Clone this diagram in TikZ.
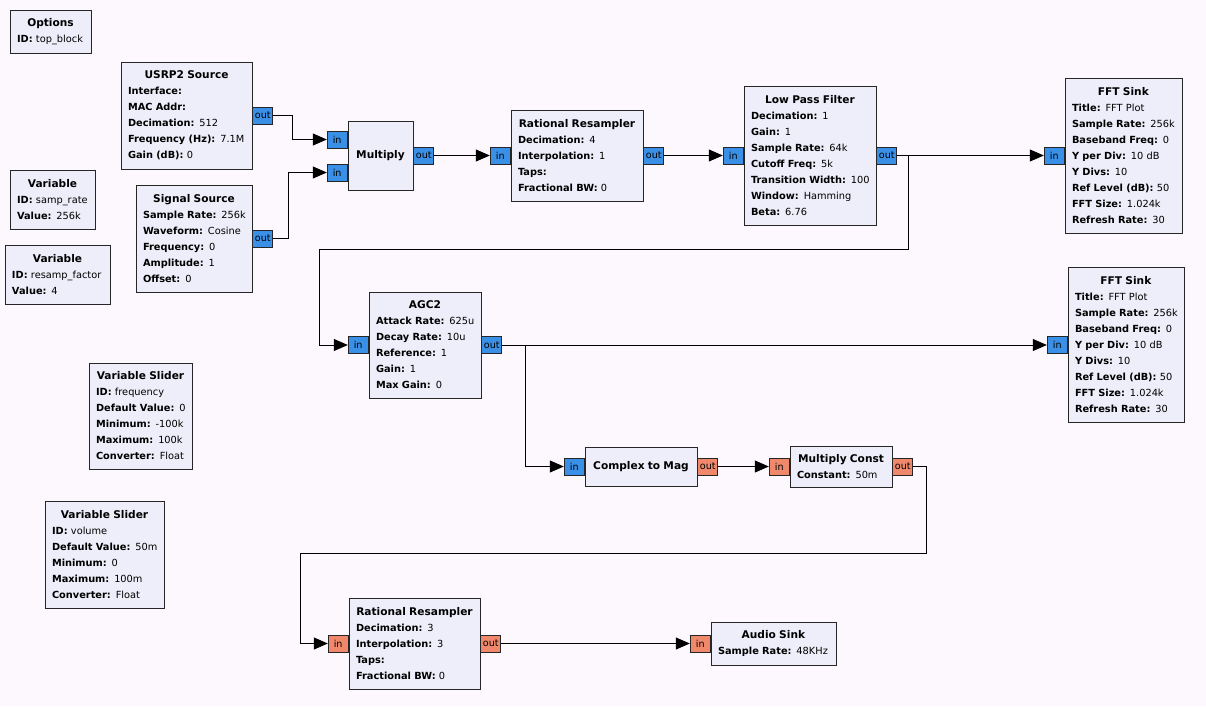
\documentclass[tikz,border=0pt]{standalone}
\usepackage{fontspec}
\setmainfont{DejaVu Sans}
\usepackage{tikz}
\usetikzlibrary{
    arrows.meta,
    calc,
    positioning,
}
\definecolor{canvasbg}{HTML}{FDF8FD}
\definecolor{blockbg}{HTML}{EEEEFA}
\definecolor{cplxport}{HTML}{3A8FE6}
\definecolor{realport}{HTML}{F0896B}
\tikzset{
    grblock/.style 2 args={ % text width, box height
        draw=black!85, fill=blockbg, line width=0.8pt,
        inner xsep=7pt, inner ysep=0pt,
        text width=#1pt, minimum height=#2pt,
        align=left, font=\fontsize{9.8}{16}\selectfont,
    },
    port/.style={draw=black!85, line width=0.8pt, inner sep=0pt,
        minimum width=20pt, minimum height=17pt,
        font=\fontsize{9.6}{10}\selectfont},
    cport/.style={port, fill=cplxport},
    rport/.style={port, fill=realport},
}
\newcommand{\blocktitle}[1]{\makebox[\hsize]{\fontsize{10.6}{16}\selectfont\textbf{#1}}}
\newcommand{\prm}[2]{\mbox{\textbf{#1:} #2}}

\begin{document}
\begin{tikzpicture}[
    x=1pt, y=-1pt,
    >={Triangle[length=14pt, width=12pt]},
    link/.style={line width=0.8pt, ->},
    ]

    \fill[canvasbg] (0,0) rectangle (1206,706);

    % variables and options
    \node[grblock={67}{43}] (options) at (50.5,31.5)
        {\blocktitle{Options}\\ \prm{ID}{top\_block}};
    \node[grblock={71}{59}] (samprate) at (52.5,199.5)
        {\blocktitle{Variable}\\ \prm{ID}{samp\_rate}\\ \prm{Value}{256k}};
    \node[grblock={91}{59}] (resampfactor) at (57.5,274.5)
        {\blocktitle{Variable}\\ \prm{ID}{resamp\_factor}\\ \prm{Value}{4}};
    \node[grblock={89}{106}] (freqslider) at (140.5,416)
        {\blocktitle{Variable Slider}\\ \prm{ID}{frequency}\\ \prm{Default Value}{0}\\
         \prm{Minimum}{-100k}\\ \prm{Maximum}{100k}\\ \prm{Converter}{Float}};
    \node[grblock={105}{107}] (volslider) at (104.5,554.5)
        {\blocktitle{Variable Slider}\\ \prm{ID}{volume}\\ \prm{Default Value}{50m}\\
         \prm{Minimum}{0}\\ \prm{Maximum}{100m}\\ \prm{Converter}{Float}};

    % sources
    \node[grblock={117}{107}] (usrp) at (186.5,115.5)
        {\blocktitle{USRP2 Source}\\ \textbf{Interface:}\\ \textbf{MAC Addr:}\\
         \prm{Decimation}{512}\\ \prm{Frequency (Hz)}{7.1M}\\ \prm{Gain (dB)}{0}};
    \node[cport, anchor=west] (usrp-out) at (usrp.east) {out};

    \node[grblock={102}{107}] (sigsrc) at (194,238.5)
        {\blocktitle{Signal Source}\\ \prm{Sample Rate}{256k}\\ \prm{Waveform}{Cosine}\\
         \prm{Frequency}{0}\\ \prm{Amplitude}{1}\\ \prm{Offset}{0}};
    \node[cport, anchor=west] (sigsrc-out) at (sigsrc.east) {out};

    % first row
    \node[grblock={51}{69}] (mult) at (380.5,155.5) {\blocktitle{Multiply}};
    \node[cport, anchor=east] (mult-in1) at ([yshift=16pt]mult.west) {in};
    \node[cport, anchor=east] (mult-in2) at ([yshift=-17pt]mult.west) {in};
    \node[cport, anchor=west] (mult-out) at (mult.east) {out};

    \node[grblock={118}{91}] (resamp) at (577,155.5)
        {\blocktitle{Rational Resampler}\\ \prm{Decimation}{4}\\ \prm{Interpolation}{1}\\
         \textbf{Taps:}\\ \prm{Fractional BW}{0}};
    \node[cport, anchor=east] (resamp-in) at (resamp.west) {in};
    \node[cport, anchor=west] (resamp-out) at (resamp.east) {out};

    \node[grblock={118}{139}] (lpf) at (810,155.5)
        {\blocktitle{Low Pass Filter}\\ \prm{Decimation}{1}\\ \prm{Gain}{1}\\
         \prm{Sample Rate}{64k}\\ \prm{Cutoff Freq}{5k}\\ \prm{Transition Width}{100}\\
         \prm{Window}{Hamming}\\ \prm{Beta}{6.76}};
    \node[cport, anchor=east] (lpf-in) at (lpf.west) {in};
    \node[cport, anchor=west] (lpf-out) at (lpf.east) {out};

    \node[grblock={103}{155}] (fftone) at (1123.5,155.5)
        {\blocktitle{FFT Sink}\\ \prm{Title}{FFT Plot}\\ \prm{Sample Rate}{256k}\\
         \prm{Baseband Freq}{0}\\ \prm{Y per Div}{10 dB}\\ \prm{Y Divs}{10}\\
         \prm{Ref Level (dB)}{50}\\ \prm{FFT Size}{1.024k}\\ \prm{Refresh Rate}{30}};
    \node[cport, anchor=east] (fftone-in) at (fftone.west) {in};

    % second row
    \node[grblock={98}{106}] (agc) at (425,345)
        {\blocktitle{AGC2}\\ \prm{Attack Rate}{625u}\\ \prm{Decay Rate}{10u}\\
         \prm{Reference}{1}\\ \prm{Gain}{1}\\ \prm{Max Gain}{0}};
    \node[cport, anchor=east] (agc-in) at (agc.west) {in};
    \node[cport, anchor=west] (agc-out) at (agc.east) {out};

    \node[grblock={102}{155}] (ffttwo) at (1126,345)
        {\blocktitle{FFT Sink}\\ \prm{Title}{FFT Plot}\\ \prm{Sample Rate}{256k}\\
         \prm{Baseband Freq}{0}\\ \prm{Y per Div}{10 dB}\\ \prm{Y Divs}{10}\\
         \prm{Ref Level (dB)}{50}\\ \prm{FFT Size}{1.024k}\\ \prm{Refresh Rate}{30}};
    \node[cport, anchor=east] (ffttwo-in) at (ffttwo.west) {in};

    \node[grblock={98}{39}] (tomag) at (641,466.5) {\blocktitle{Complex to Mag}};
    \node[cport, anchor=east] (tomag-in) at (tomag.west) {in};
    \node[rport, anchor=west] (tomag-out) at (tomag.east) {out};

    \node[grblock={88}{41}] (mulconst) at (841,466.5)
        {\blocktitle{Multiply Const}\\ \prm{Constant}{50m}};
    \node[rport, anchor=east] (mulconst-in) at (mulconst.west) {in};
    \node[rport, anchor=west] (mulconst-out) at (mulconst.east) {out};

    % audio path
    \node[grblock={117}{91}] (resamptwo) at (414.5,643.5)
        {\blocktitle{Rational Resampler}\\ \prm{Decimation}{3}\\ \prm{Interpolation}{3}\\
         \textbf{Taps:}\\ \prm{Fractional BW}{0}};
    \node[rport, anchor=east] (resamptwo-in) at (resamptwo.west) {in};
    \node[rport, anchor=west] (resamptwo-out) at (resamptwo.east) {out};

    \node[grblock={111}{43}] (audio) at (773.5,643.5)
        {\blocktitle{Audio Sink}\\ \prm{Sample Rate}{48KHz}};
    \node[rport, anchor=east] (audio-in) at (audio.west) {in};

    % connections
    \draw[link] (usrp-out.east) -- ++(19,0) |- (mult-in1.west);
    \draw[link] (sigsrc-out.east) -- ++(15,0) |- (mult-in2.west);
    \draw[link] (mult-out) -- (resamp-in);
    \draw[link] (resamp-out) -- (lpf-in);
    \draw[link] (lpf-out) -- (fftone-in);
    \draw[link] (lpf-out.east) -- ++(11,0) |- (319,249) |- (agc-in.west);
    \draw[link] (agc-out) -- (ffttwo-in);
    \draw[link] (agc-out.east) -- ++(23,0) |- (tomag-in.west);
    \draw[link] (tomag-out) -- (mulconst-in);
    \draw[link] (mulconst-out.east) -- ++(13,0) |- (300,553) |- (resamptwo-in.west);
    \draw[link] (resamptwo-out) -- (audio-in);

\end{tikzpicture}
\end{document}
